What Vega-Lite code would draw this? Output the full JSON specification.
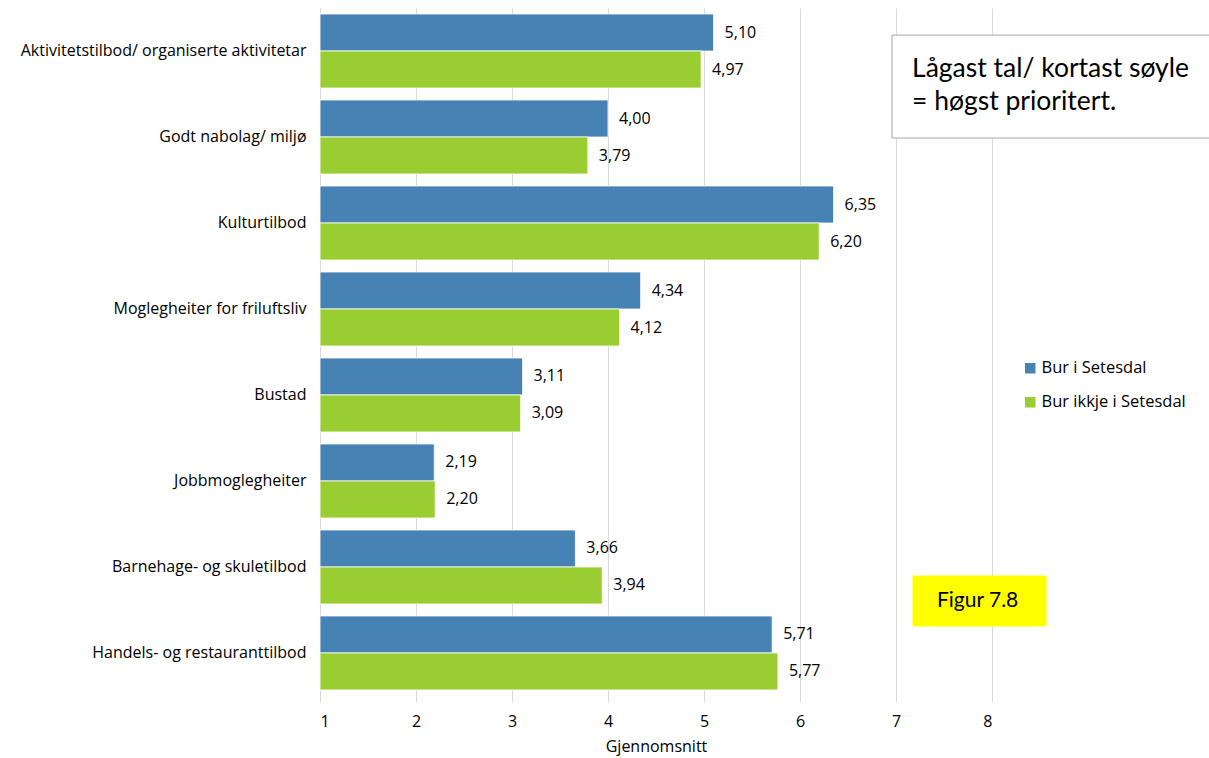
{
  "$schema": "https://vega.github.io/schema/vega-lite/v6.json",
  "autosize": {"type": "none"},
  "width": 672,
  "height": 688,
  "padding": {"left": 320, "top": 8, "right": 217, "bottom": 62},
  "background": "white",
  "config": {
    "font": "Open Sans",
    "view": {"stroke": null},
    "locale": {"number": {"decimal": ",", "thousands": " ", "grouping": [3], "currency": ["", " kr"]}}
  },
  "datasets": {
    "bars": [
      {"kategori": "Aktivitetstilbod/ organiserte aktivitetar", "gruppe": "Bur i Setesdal", "snitt": 5.10},
      {"kategori": "Aktivitetstilbod/ organiserte aktivitetar", "gruppe": "Bur ikkje i Setesdal", "snitt": 4.97},
      {"kategori": "Godt nabolag/ miljø", "gruppe": "Bur i Setesdal", "snitt": 4.00},
      {"kategori": "Godt nabolag/ miljø", "gruppe": "Bur ikkje i Setesdal", "snitt": 3.79},
      {"kategori": "Kulturtilbod", "gruppe": "Bur i Setesdal", "snitt": 6.35},
      {"kategori": "Kulturtilbod", "gruppe": "Bur ikkje i Setesdal", "snitt": 6.20},
      {"kategori": "Moglegheiter for friluftsliv", "gruppe": "Bur i Setesdal", "snitt": 4.34},
      {"kategori": "Moglegheiter for friluftsliv", "gruppe": "Bur ikkje i Setesdal", "snitt": 4.12},
      {"kategori": "Bustad", "gruppe": "Bur i Setesdal", "snitt": 3.11},
      {"kategori": "Bustad", "gruppe": "Bur ikkje i Setesdal", "snitt": 3.09},
      {"kategori": "Jobbmoglegheiter", "gruppe": "Bur i Setesdal", "snitt": 2.19},
      {"kategori": "Jobbmoglegheiter", "gruppe": "Bur ikkje i Setesdal", "snitt": 2.20},
      {"kategori": "Barnehage- og skuletilbod", "gruppe": "Bur i Setesdal", "snitt": 3.66},
      {"kategori": "Barnehage- og skuletilbod", "gruppe": "Bur ikkje i Setesdal", "snitt": 3.94},
      {"kategori": "Handels- og restauranttilbod", "gruppe": "Bur i Setesdal", "snitt": 5.71},
      {"kategori": "Handels- og restauranttilbod", "gruppe": "Bur ikkje i Setesdal", "snitt": 5.77}
    ],
    "boks": [
      {"x1": 6.958, "x2": 10.5, "y1": 0.315, "y2": 1.512, "fyll": "white", "strek": "#a6a6a6"},
      {"x1": 7.177, "x2": 8.5625, "y1": 6.605, "y2": 7.186, "fyll": "#ffff00", "strek": "#ffff00"}
    ],
    "tekst": [
      {"x": 7.167, "y": 0.802, "t": "Lågast tal/ kortast søyle"},
      {"x": 7.167, "y": 1.186, "t": "= høgst prioritert."}
    ],
    "figur": [
      {"x": 7.85, "y": 6.895, "t": "Figur 7.8"}
    ]
  },
  "layer": [
    {
      "data": {"name": "bars"},
      "encoding": {
        "y": {
          "field": "kategori", "type": "nominal", "sort": null, "title": null,
          "scale": {"paddingInner": 0.1395, "paddingOuter": 0.07},
          "axis": {"ticks": false, "labelPadding": 14, "labelFontSize": 16, "labelColor": "#000000", "domainColor": "#d9d9d9", "labelLimit": 400}
        },
        "yOffset": {"field": "gruppe", "type": "nominal", "sort": ["Bur i Setesdal", "Bur ikkje i Setesdal"]},
        "x": {
          "field": "snitt", "type": "quantitative", "title": "Gjennomsnitt",
          "scale": {"domain": [1, 8], "zero": false, "nice": false},
          "axis": {"values": [1, 2, 3, 4, 5, 6, 7, 8], "format": "d", "grid": true, "gridColor": "#d9d9d9", "domain": false, "tickColor": "#d9d9d9", "tickSize": 6, "labelFontSize": 16, "labelColor": "#000000", "labelPadding": 11, "titleFontSize": 16, "titleFontWeight": "normal", "titleColor": "#000000", "titlePadding": 9}
        }
      },
      "layer": [
        {
          "mark": {"type": "bar", "stroke": "white", "strokeWidth": 0.8},
          "encoding": {
            "x2": {"datum": 1},
            "color": {
              "field": "gruppe", "type": "nominal", "title": null,
              "scale": {"domain": ["Bur i Setesdal", "Bur ikkje i Setesdal"], "range": ["#4682b4", "#9acd32"]},
              "legend": {"orient": "none", "legendX": 702, "legendY": 352, "symbolType": "square", "symbolSize": 110, "symbolStrokeWidth": 0, "labelFontSize": 16.5, "labelColor": "#000000", "rowPadding": 17, "labelOffset": 3}
            }
          }
        },
        {
          "mark": {"type": "text", "align": "left", "baseline": "middle", "dx": 11, "fontSize": 16, "color": "#000000"},
          "encoding": {
            "text": {"field": "snitt", "type": "quantitative", "format": ".2f"}
          }
        }
      ]
    },
    {
      "data": {"name": "boks"},
      "mark": {"type": "rect", "clip": false, "strokeWidth": 1},
      "encoding": {
        "x": {"field": "x1", "type": "quantitative"},
        "x2": {"field": "x2"},
        "y": {"field": "y1", "type": "quantitative", "scale": {"domain": [0, 8], "reverse": true, "zero": false, "nice": false}, "axis": null},
        "y2": {"field": "y2"},
        "fill": {"field": "fyll", "type": "nominal", "scale": null},
        "stroke": {"field": "strek", "type": "nominal", "scale": null}
      }
    },
    {
      "data": {"name": "tekst"},
      "mark": {"type": "text", "align": "left", "baseline": "alphabetic", "font": "Lato", "fontSize": 26.5, "color": "#000000", "clip": false},
      "encoding": {
        "x": {"field": "x", "type": "quantitative"},
        "y": {"field": "y", "type": "quantitative", "scale": {"domain": [0, 8], "reverse": true, "zero": false, "nice": false}, "axis": null},
        "text": {"field": "t"}
      }
    },
    {
      "data": {"name": "figur"},
      "mark": {"type": "text", "align": "center", "baseline": "middle", "font": "Lato", "fontSize": 21, "color": "#000000", "clip": false},
      "encoding": {
        "x": {"field": "x", "type": "quantitative"},
        "y": {"field": "y", "type": "quantitative", "scale": {"domain": [0, 8], "reverse": true, "zero": false, "nice": false}, "axis": null},
        "text": {"field": "t"}
      }
    }
  ],
  "resolve": {"scale": {"y": "independent"}, "axis": {"y": "independent"}}
}
